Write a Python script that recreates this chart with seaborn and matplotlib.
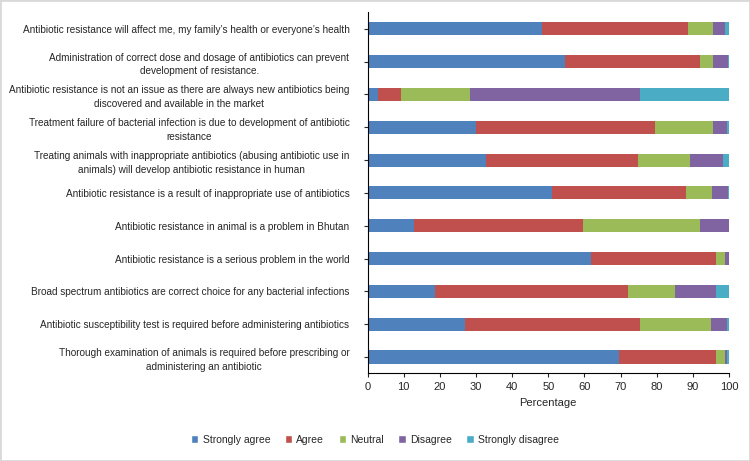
import matplotlib
matplotlib.use("Agg")
import pandas as pd
import seaborn as sns
from matplotlib import pyplot as plt
from matplotlib.patches import Patch, Rectangle

statements = [
    "Antibiotic resistance will affect me, my family\u2019s health or everyone\u2019s health",
    "Administration of correct dose and dosage of antibiotics can prevent\ndevelopment of resistance.",
    "Antibiotic resistance is not an issue as there are always new antibiotics being\ndiscovered and available in the market",
    "Treatment failure of bacterial infection is due to development of antibiotic\nresistance",
    "Treating animals with inappropriate antibiotics (abusing antibiotic use in\nanimals) will develop antibiotic resistance in human",
    "Antibiotic resistance is a result of inappropriate use of antibiotics",
    "Antibiotic resistance in animal is a problem in Bhutan",
    "Antibiotic resistance is a serious problem in the world",
    "Broad spectrum antibiotics are correct choice for any bacterial infections",
    "Antibiotic susceptibility test is required before administering antibiotics",
    "Thorough examination of animals is required before prescribing or\nadministering an antibiotic",
]

strongly_agree = [48.3, 54.7, 2.9, 30.0, 32.7, 51.1, 13.0, 61.8, 18.6, 27.0, 69.5]
agree = [40.4, 37.2, 6.5, 49.4, 42.1, 37.0, 46.7, 34.5, 53.5, 48.4, 26.8]
neutral = [7.0, 3.8, 18.9, 16.1, 14.4, 7.1, 32.3, 2.7, 13.0, 19.6, 2.7]
disagree = [3.1, 3.9, 47.0, 3.9, 9.1, 4.5, 8.0, 1.0, 11.2, 4.4, 0.5]
strongly_disagree = [1.2, 0.4, 24.7, 0.6, 1.7, 0.3, 0.0, 0.0, 3.7, 0.6, 0.5]

responses = ["Strongly agree", "Agree", "Neutral", "Disagree", "Strongly disagree"]
colors = ["#4F81BD", "#C0504D", "#9BBB59", "#8064A2", "#4BACC6"]

df = pd.DataFrame({
    "statement": statements,
    "Strongly agree": strongly_agree,
    "Agree": agree,
    "Neutral": neutral,
    "Disagree": disagree,
    "Strongly disagree": strongly_disagree,
})
cum = df[responses].cumsum(axis=1)
cum["statement"] = df["statement"]

sns.set_style("white")
plt.rcParams["font.family"] = ["Liberation Sans", "DejaVu Sans"]

fig, ax = plt.subplots(figsize=(7.5, 4.61), dpi=100)
fig.subplots_adjust(left=0.49, right=0.972, top=0.973, bottom=0.19)

# stacked bars: draw cumulative totals from the outermost segment inwards
for resp, col in reversed(list(zip(responses, colors))):
    sns.barplot(data=cum, x=resp, y="statement", orient="h", color=col,
                width=0.4, ax=ax, saturation=1, edgecolor="none")

ax.set_xlim(0, 100)
ax.set_xticks(range(0, 101, 10))
ax.set_xlabel("Percentage", fontsize=8)
ax.set_ylabel("")
ax.tick_params(axis="x", labelsize=8, length=3, direction="out", bottom=True)
ax.tick_params(axis="y", labelsize=7.2, length=3, direction="out", left=True, pad=10)
for lab in ax.get_yticklabels():
    lab.set_multialignment("center")
    lab.set_linespacing(1.45)
sns.despine(ax=ax)
for s in ["left", "bottom"]:
    ax.spines[s].set_color("black")
    ax.spines[s].set_linewidth(0.8)

handles = [Patch(facecolor=c, label=r) for r, c in zip(responses, colors)]
fig.legend(handles=handles, loc="lower center", ncol=5, frameon=False,
           fontsize=7.5, handlelength=0.7, handleheight=0.7,
           columnspacing=1.4, handletextpad=0.4, bbox_to_anchor=(0.5, 0.015))

fig.add_artist(Rectangle((0, 0), 1, 1, transform=fig.transFigure, fill=False,
                         edgecolor="#d9d9d9", linewidth=2))

fig.savefig("out.png", dpi=100)
